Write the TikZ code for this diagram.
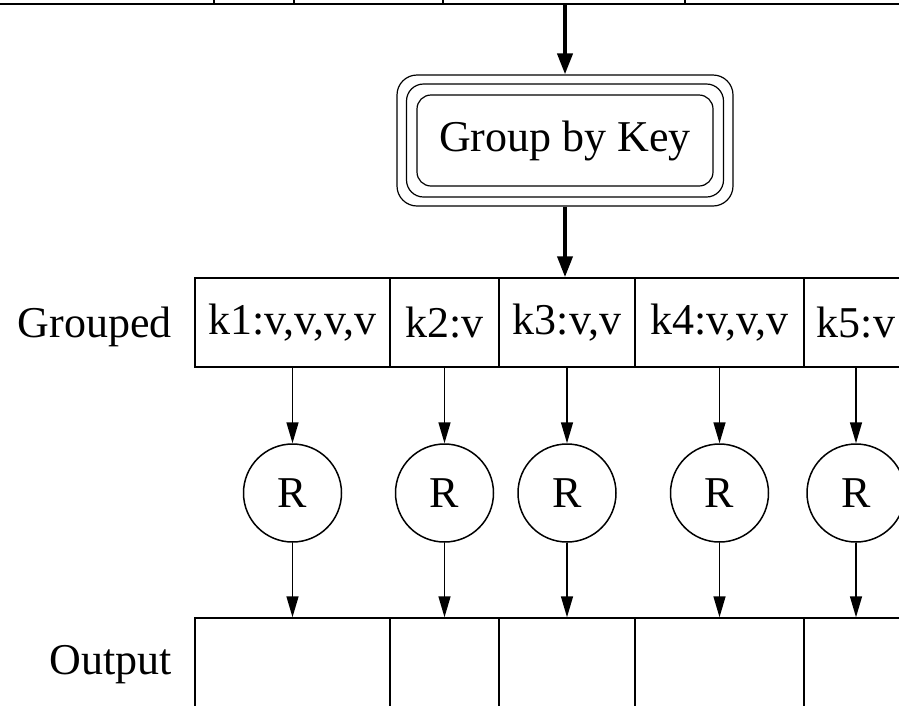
\documentclass[tikz,border=0pt]{standalone}
\usepackage{fontspec}
\setmainfont{Liberation Serif}
\usetikzlibrary{arrows.meta}
\begin{document}
\begin{tikzpicture}[x=1pt,y=-1pt,
  every node/.style={font=\fontsize{44}{52}\selectfont},
  cell/.style={draw, line width=1.5pt, rectangle, inner sep=0pt},
  topcell/.style={draw, line width=2pt, rectangle, inner sep=0pt, minimum height=60pt},
  thinarrow/.style={line width=1.5pt, -{Triangle[width=12pt,length=21pt]}},
  thickarrow/.style={line width=4pt, -{Triangle[width=15pt,length=21pt]}},
  rnode/.style={draw, circle, line width=1.5pt, minimum size=98pt, inner sep=0pt},
  gbox/.style={draw, line width=1.2pt, rectangle, inner sep=0pt},
  lbl/.style={inner sep=0pt, anchor=east}]
\useasboundingbox (0,0) rectangle (899,705);
\clip (0,0) rectangle (899,705);
% top table (cropped)
\node[topcell, minimum width=234pt] (t1) at (97,-26) {};
\node[topcell, minimum width=80pt] (t2) at (254,-26) {};
\node[topcell, minimum width=149pt] (t3) at (368.5,-26) {};
\node[topcell, minimum width=242pt] (t4) at (564,-26) {};
\node[topcell, minimum width=235pt] (t5) at (802.5,-26) {};
% group by key
\node[gbox, rounded corners=20pt, minimum width=336pt, minimum height=131pt] (gk) at (565,140.5) {};
\node[gbox, rounded corners=17pt, minimum width=317pt, minimum height=113pt] (gkm) at (565,140.5) {};
\node[gbox, rounded corners=14pt, minimum width=296pt, minimum height=91pt] (gki) at (565,140.5) {Group by Key};
% grouped row
\node[lbl] (lg) at (172,327) {Grouped};
\node[cell, minimum width=195pt, minimum height=89pt] (g1) at (292.5,322.5) {k1:v,v,v,v};
\node[cell, minimum width=109pt, minimum height=89pt] (g2) at (444.5,322.5) {k2:v};
\node[cell, minimum width=136pt, minimum height=89pt] (g3) at (567,322.5) {k3:v,v};
\node[cell, minimum width=169pt, minimum height=89pt] (g4) at (719.5,322.5) {k4:v,v,v};
\node[cell, minimum width=104pt, minimum height=89pt] (g5) at (856,322.5) {k5:v};
% reducers
\node[rnode] (r1) at (292.5,493) {R};
\node[rnode] (r2) at (444.5,493) {R};
\node[rnode] (r3) at (567,493) {R};
\node[rnode] (r4) at (719.5,493) {R};
\node[rnode] (r5) at (856,493) {R};
% output row
\node[lbl] (lo) at (172,665) {Output};
\node[cell, minimum width=195pt, minimum height=150pt] (o1) at (292.5,693) {};
\node[cell, minimum width=109pt, minimum height=150pt] (o2) at (444.5,693) {};
\node[cell, minimum width=136pt, minimum height=150pt] (o3) at (567,693) {};
\node[cell, minimum width=169pt, minimum height=150pt] (o4) at (719.5,693) {};
\node[cell, minimum width=104pt, minimum height=150pt] (o5) at (856,693) {};
% arrows
\draw[thickarrow] (t4.south -| gk.north) -- (gk.north);
\draw[thickarrow] (gk.south) -- (gk.south |- g3.north);
\foreach \i in {1,...,5}{
  \draw[thinarrow] (g\i.south) -- (r\i.north);
  \draw[thinarrow] (r\i.south) -- (o\i.north);
}
\end{tikzpicture}
\end{document}
